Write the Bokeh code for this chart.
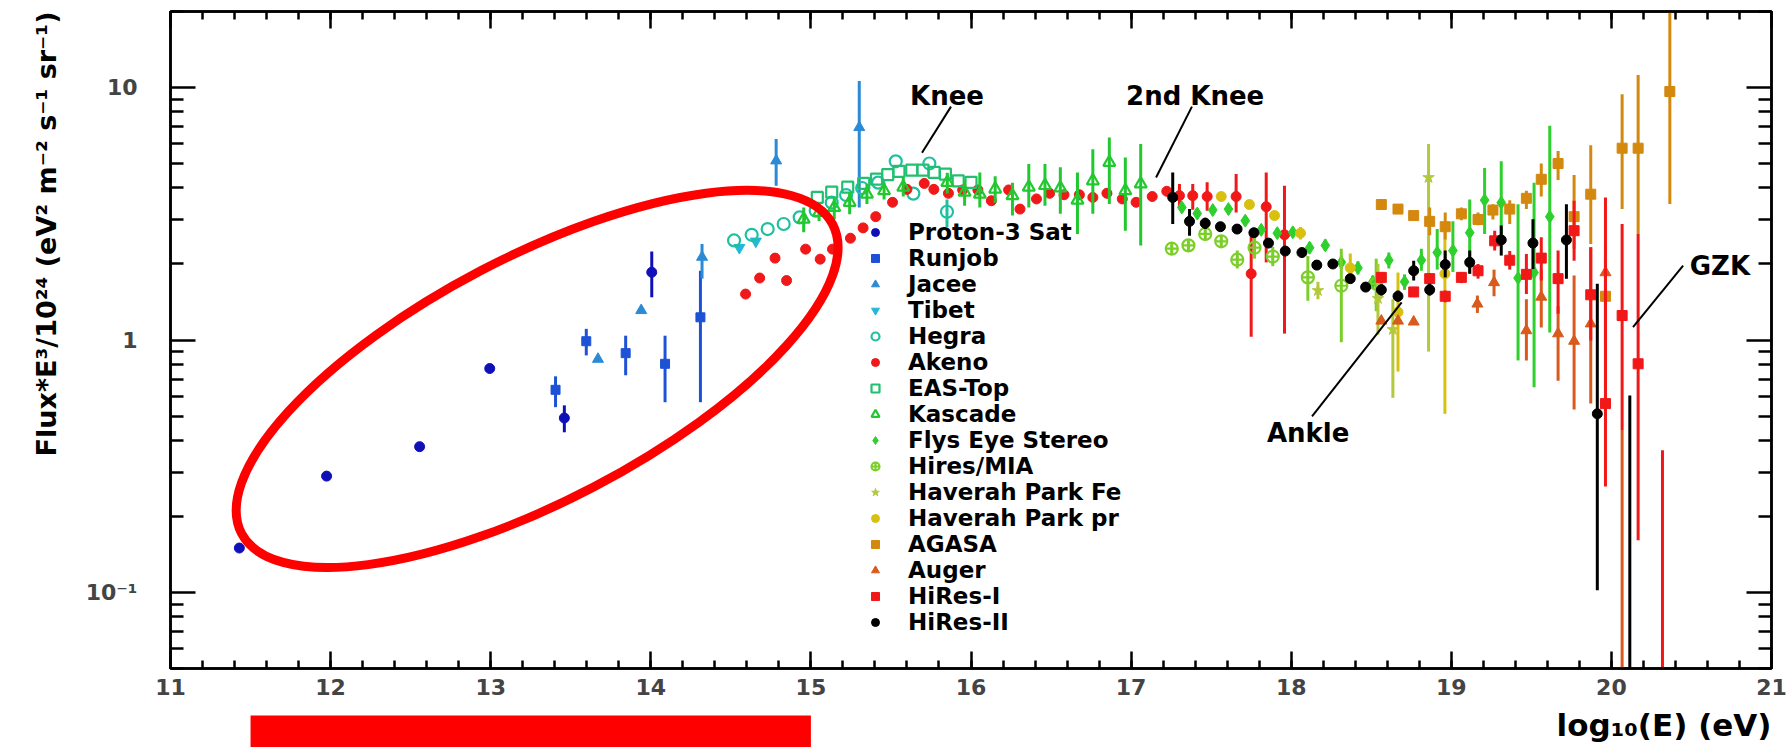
from bokeh.embed import file_html
from bokeh.layouts import column
from bokeh.models import (ColumnDataSource, CustomJSTickFormatter, FixedTicker, Label, Legend,
                          LegendItem, LinearAxis, LogAxis, Range1d, SingleIntervalTicker, Title)
from bokeh.plotting import figure
from bokeh.resources import INLINE

# ---------------------------------------------------------------------------
# Cosmic-ray all-particle spectrum, Flux * E^3 / 1e24  [eV^2 m^-2 s^-1 sr^-1]
# x values are log10(E/eV); lo/hi are the ends of the vertical error bars.
# ---------------------------------------------------------------------------
proton_x = [11.43, 11.975, 12.556, 12.994, 13.46, 14.006]
proton_y = [0.150, 0.289, 0.378, 0.771, 0.491, 1.855]
proton_lo = [0.150, 0.289, 0.378, 0.771, 0.431, 1.476]
proton_hi = [0.150, 0.289, 0.378, 0.771, 0.551, 2.24]

runjob_x = [13.405, 13.597, 13.843, 14.089, 14.31]
runjob_y = [0.635, 0.989, 0.887, 0.805, 1.23]
runjob_lo = [0.542, 0.869, 0.725, 0.567, 0.567]
runjob_hi = [0.718, 1.107, 1.04, 1.04, 1.88]

jacee_x = [13.67, 13.94, 14.32, 14.783, 15.302]
jacee_y = [0.84, 1.31, 2.13, 5.13, 6.95]
jacee_lo = [0.84, 1.31, 1.75, 4.08, 3.35]
jacee_hi = [0.84, 1.31, 2.4, 6.25, 10.6]

tibet_x = [14.553, 14.656]
tibet_y = [2.32, 2.46]
tibet_lo = [2.32, 2.46]
tibet_hi = [2.32, 2.46]

hegra_x = [14.52, 14.63, 14.73, 14.83, 14.93, 15.03, 15.13, 15.22, 15.32, 15.42,
           15.53, 15.64, 15.74, 15.85]
hegra_y = [2.48, 2.61, 2.75, 2.88, 3.06, 3.25, 3.5, 3.75, 4.0, 4.2, 5.1, 3.8, 5.0, 3.22]
hegra_lo = [2.48, 2.61, 2.75, 2.88, 3.06, 3.25, 3.5, 3.75, 4.0, 4.2, 5.1, 3.8, 5.0, 2.8]
hegra_hi = [2.48, 2.61, 2.75, 2.88, 3.06, 3.25, 3.5, 3.75, 4.0, 4.2, 5.1, 3.8, 5.0, 3.6]

akeno_x = [14.592, 14.68, 14.776, 14.848, 14.967, 15.058, 15.135, 15.247, 15.326,
           15.405, 15.51, 15.6, 15.708, 15.768, 15.859, 15.948, 16.043, 16.127,
           16.235, 16.306, 16.409, 16.491, 16.581, 16.677, 16.761, 16.849, 16.945,
           17.031, 17.132, 17.223, 17.302, 17.385, 17.475, 17.656, 17.75, 17.844,
           17.958]
akeno_y = [1.52, 1.76, 2.11, 1.72, 2.29, 2.09, 2.29, 2.53, 2.78, 3.08, 3.51, 3.95,
           4.17, 3.95, 3.81, 3.93, 3.93, 3.56, 3.93, 3.3, 3.62, 3.81, 3.76, 3.76,
           3.67, 3.81, 3.62, 3.51, 3.7, 3.88, 3.73, 3.73, 3.7, 3.7, 1.83, 3.37, 2.61]
akeno_lo = akeno_y[:30] + [3.35, 3.28, 3.25, 3.2, 1.03, 2.03, 1.06]
akeno_hi = akeno_y[:30] + [4.15, 4.15, 4.21, 4.54, 2.63, 4.61, 4.08]

eastop_x = [15.04, 15.13, 15.23, 15.33, 15.41, 15.48, 15.55, 15.63, 15.70, 15.77,
            15.84, 15.92, 16.0]
eastop_y = [3.67, 3.85, 4.03, 4.17, 4.34, 4.52, 4.65, 4.71, 4.71, 4.61, 4.54, 4.27, 4.21]
eastop_lo = eastop_y
eastop_hi = eastop_y

kascade_x = [14.955, 15.051, 15.146, 15.242, 15.35, 15.457, 15.577, 15.852, 15.96,
             16.055, 16.151, 16.259, 16.361, 16.462, 16.558, 16.665, 16.761, 16.864,
             16.964, 17.06]
kascade_y = [3.01, 3.2, 3.35, 3.51, 3.78, 3.9, 4.03, 4.21, 3.85, 3.78, 3.96, 3.73,
             4.03, 4.09, 4.0, 3.58, 4.27, 5.05, 3.9, 4.15]
kascade_lo = [2.67, 2.96, 3.01, 3.15, 3.46, 3.6, 3.7, 3.8, 3.4, 3.35, 3.5, 3.11,
              3.35, 3.4, 3.16, 2.63, 3.16, 3.46, 2.71, 2.37]
kascade_hi = [3.35, 3.45, 3.67, 3.85, 4.15, 4.2, 4.4, 4.6, 4.3, 4.61, 4.45, 4.2,
              4.98, 4.98, 4.83, 4.61, 5.7, 6.34, 5.28, 5.97]

flys_x = [17.317, 17.413, 17.51, 17.608, 17.713, 17.813, 17.913, 18.01, 18.115,
          18.213, 18.313, 18.417, 18.51, 18.61, 18.708, 18.813, 18.912, 19.01,
          19.115, 19.208, 19.312, 19.417, 19.517, 19.615]
flys_y = [3.35, 3.17, 3.27, 3.3, 2.97, 2.73, 2.65, 2.67, 2.32, 2.37, 2.03, 1.93,
          1.7, 2.07, 1.7, 2.07, 2.22, 2.26, 2.66, 3.58, 3.5, 1.76, 1.85, 3.08]
flys_lo = [3.2, 3.03, 3.12, 3.15, 2.84, 2.6, 2.53, 2.55, 2.2, 2.25, 1.92, 1.82,
           1.6, 1.92, 1.58, 1.88, 1.9, 1.86, 1.83, 2.63, 2.55, 0.83, 0.65, 1.07]
flys_hi = [3.5, 3.32, 3.42, 3.45, 3.1, 2.86, 2.77, 2.8, 2.44, 2.5, 2.15, 2.05,
           1.8, 2.22, 1.82, 2.3, 2.75, 2.95, 3.6, 4.8, 5.1, 3.45, 4.2, 7.05]

mia_x = [17.254, 17.358, 17.463, 17.563, 17.663, 17.771, 17.885, 18.104, 18.313, 18.531]
mia_y = [2.3, 2.37, 2.63, 2.46, 2.08, 2.32, 2.14, 1.77, 1.64, 1.67]
mia_lo = [2.17, 2.24, 2.48, 2.32, 1.92, 2.1, 1.96, 1.43, 0.98, 1.3]
mia_hi = [2.44, 2.5, 2.78, 2.6, 2.26, 2.55, 2.34, 2.15, 2.3, 2.1]

hpfe_x = [18.167, 18.542, 18.635, 18.858]
hpfe_y = [1.57, 1.46, 1.1, 4.4]
hpfe_lo = [1.45, 1.05, 0.59, 0.9]
hpfe_hi = [1.7, 2.0, 1.45, 5.97]

hppr_x = [17.563, 17.739, 17.896, 18.058, 18.369, 18.667, 18.96]
hppr_y = [3.7, 3.44, 3.11, 2.65, 1.93, 1.29, 1.83]
hppr_lo = [3.7, 3.44, 3.11, 2.5, 1.75, 0.75, 0.51]
hppr_hi = [3.7, 3.44, 3.11, 2.8, 2.2, 1.85, 2.7]

agasa_x = [18.563, 18.667, 18.765, 18.865, 18.962, 19.063, 19.167, 19.26, 19.365,
           19.469, 19.562, 19.667, 19.767, 19.871, 19.963, 20.067, 20.167, 20.365]
agasa_y = [3.44, 3.3, 3.11, 2.95, 2.81, 3.16, 3.0, 3.27, 3.3, 3.64, 4.33, 5.0,
           3.08, 3.78, 1.49, 5.75, 5.75, 9.64]
agasa_lo = [3.44, 3.3, 3.11, 2.6, 2.5, 2.98, 2.85, 3.0, 2.88, 3.3, 3.7, 4.3,
            2.3, 2.4, 0.95, 3.3, 2.63, 3.46]
agasa_hi = [3.44, 3.3, 3.11, 3.35, 3.2, 3.35, 3.2, 3.45, 3.58, 3.9, 5.0, 5.6,
            4.5, 5.9, 2.4, 9.4, 11.2, 19.8]

auger_x = [18.563, 18.667, 18.765, 19.163, 19.267, 19.469, 19.562, 19.667, 19.767,
           19.871, 19.963, 20.067]
auger_y = [1.19, 1.19, 1.18, 1.39, 1.69, 1.09, 1.48, 1.06, 0.99, 1.16, 1.85, 0.03]
auger_lo = [1.19, 1.19, 1.18, 1.28, 1.49, 0.83, 1.12, 0.69, 0.53, 0.56, 0.5, 0.01]
auger_hi = [1.19, 1.19, 1.18, 1.5, 1.9, 1.45, 1.9, 1.36, 1.8, 2.33, 2.05, 0.44]

hires1_x = [18.563, 18.765, 18.865, 18.962, 19.063, 19.167, 19.271, 19.365, 19.469,
            19.562, 19.667, 19.767, 19.871, 19.963, 20.067, 20.167, 20.319]
hires1_y = [1.77, 1.55, 1.75, 1.49, 1.77, 1.88, 2.47, 2.07, 1.82, 2.11, 1.75, 2.71,
            1.51, 0.56, 1.25, 0.805, 0.03]
hires1_lo = [1.68, 1.48, 1.66, 1.41, 1.68, 1.75, 2.26, 1.9, 1.52, 1.72, 1.27, 2.06,
             0.995, 0.263, 0.44, 0.161, 0.01]
hires1_hi = [1.86, 1.62, 1.84, 1.57, 1.86, 2.0, 2.71, 2.25, 2.19, 2.55, 2.26, 3.56,
             2.33, 3.67, 2.88, 2.63, 0.366]

hires2_x = [17.26, 17.365, 17.463, 17.558, 17.662, 17.767, 17.858, 17.963, 18.067,
            18.16, 18.26, 18.369, 18.465, 18.563, 18.667, 18.765, 18.865, 18.962,
            19.115, 19.312, 19.51, 19.719, 19.912, 20.115]
hires2_y = [3.67, 2.95, 2.9, 2.81, 2.75, 2.66, 2.42, 2.25, 2.22, 1.98, 2.0, 1.75,
            1.62, 1.58, 1.49, 1.88, 1.58, 1.99, 2.03, 2.49, 2.42, 2.49, 0.51, 0.03]
hires2_lo = [2.88, 2.59, 2.75, 2.7, 2.65, 2.57, 2.34, 2.18, 2.15, 1.92, 1.94, 1.68,
             1.57, 1.5, 1.42, 1.72, 1.5, 1.77, 1.83, 2.16, 1.91, 1.75, 0.102, 0.01]
hires2_hi = [4.61, 3.3, 3.05, 2.92, 2.85, 2.75, 2.5, 2.32, 2.29, 2.04, 2.06, 1.82,
             1.67, 1.66, 1.57, 2.06, 1.67, 2.26, 2.26, 2.84, 3.01, 3.45, 1.67, 0.603]

# axis tick labels
y_ticks = [0.1, 1, 10]
y_tick_labels = {0.1: "10⁻¹", 1: "1", 10: "10"}

# feature annotations: text position and pointer line (log10 E, flux)
features = [
    ("Knee", 15.85, 9.27, [15.875, 15.694], [8.4, 5.52]),
    ("2nd Knee", 17.40, 9.27, [17.38, 17.156], [8.4, 4.4]),
    ("Ankle", 18.106, 0.4266, [18.13, 18.69], [0.498, 1.41]),
    ("GZK", 20.678, 1.97, [20.448, 20.135], [1.97, 1.124]),
]

# energy band of the direct (balloon/satellite) measurements, log10(E)
direct_band = (11.5, 15.0)

FONT = "DejaVu Sans"
WIDTH = 1789

x_range = Range1d(11, 21)
p = figure(width=WIDTH, height=705,
           x_range=x_range, y_range=Range1d(0.05, 20),
           y_axis_type="log", output_backend="svg", toolbar_location=None,
           min_border_left=170, min_border_right=18, min_border_top=11,
           min_border_bottom=37)
p.background_fill_color = "white"
p.border_fill_color = "white"
p.outline_line_color = "black"
p.outline_line_width = 2.5
p.xgrid.visible = False
p.ygrid.visible = False

minor_y = [m * 10.0 ** e for e in (-2, -1, 0, 1) for m in range(2, 10)]
minor_y = [v for v in minor_y if 0.05 <= v <= 20]

blank = CustomJSTickFormatter(code="return ''")


def style_axis(ax, tick_in, minor_in, labels, standoff):
    ax.major_tick_in = tick_in
    ax.major_tick_out = 0
    ax.minor_tick_in = minor_in
    ax.minor_tick_out = 0
    ax.axis_line_width = 2.5
    ax.major_tick_line_width = 2.5
    ax.minor_tick_line_width = 2.5
    ax.major_label_text_font = FONT
    ax.major_label_text_font_style = "bold"
    if labels:
        ax.major_label_text_font_size = "22px"
        ax.major_label_standoff = standoff
    else:
        ax.formatter = blank
        ax.major_label_text_font_size = "1px"
        ax.major_label_standoff = 0


xaxis = p.xaxis[0]
xaxis.ticker = SingleIntervalTicker(interval=1, num_minor_ticks=5)
style_axis(xaxis, 17, 8, True, 10)

yaxis = p.yaxis[0]
yaxis.ticker = FixedTicker(ticks=y_ticks, minor_ticks=minor_y)
style_axis(yaxis, 25, 13, True, 33)
yaxis.major_label_overrides = y_tick_labels

top_axis = LinearAxis(ticker=SingleIntervalTicker(interval=1, num_minor_ticks=5))
style_axis(top_axis, 17, 8, False, 0)
p.add_layout(top_axis, "above")
right_axis = LogAxis(ticker=FixedTicker(ticks=y_ticks, minor_ticks=minor_y))
style_axis(right_axis, 25, 13, False, 0)
p.add_layout(right_axis, "right")

# vertical axis title, placed at the top end of the axis
p.add_layout(Title(text="Flux*E³/10²⁴ (eV² m⁻² s⁻¹ sr⁻¹)", align="right",
                   text_font=FONT, text_font_style="bold", text_font_size="27px",
                   text_color="black", standoff=42), "left")

series = [
    ("Proton-3 Sat", proton_x, proton_y, proton_lo, proton_hi, "circle", "#0f10b8", 10, True),
    ("Runjob", runjob_x, runjob_y, runjob_lo, runjob_hi, "square", "#1d52d6", 9, True),
    ("Jacee", jacee_x, jacee_y, jacee_lo, jacee_hi, "triangle", "#2a8ad6", 11, True),
    ("Tibet", tibet_x, tibet_y, tibet_lo, tibet_hi, "inverted_triangle", "#22b8d8", 11, True),
    ("Hegra", hegra_x, hegra_y, hegra_lo, hegra_hi, "circle", "#1fc0a0", 12, False),
    ("Akeno", akeno_x, akeno_y, akeno_lo, akeno_hi, "circle", "#f01818", 10, True),
    ("EAS-Top", eastop_x, eastop_y, eastop_lo, eastop_hi, "square", "#20c070", 11, False),
    ("Kascade", kascade_x, kascade_y, kascade_lo, kascade_hi, "triangle", "#22c830", 12, False),
    ("Flys Eye Stereo", flys_x, flys_y, flys_lo, flys_hi, "diamond", "#2ed02e", 13, True),
    ("Hires/MIA", mia_x, mia_y, mia_lo, mia_hi, "circle_cross", "#7ccf2a", 12, False),
    ("Haverah Park Fe", hpfe_x, hpfe_y, hpfe_lo, hpfe_hi, "star", "#b4c83c", 12, True),
    ("Haverah Park pr", hppr_x, hppr_y, hppr_lo, hppr_hi, "circle", "#d8c010", 10, True),
    ("AGASA", agasa_x, agasa_y, agasa_lo, agasa_hi, "square", "#d4880e", 10, True),
    ("Auger", auger_x, auger_y, auger_lo, auger_hi, "triangle", "#d85a1c", 11, True),
    ("HiRes-I", hires1_x, hires1_y, hires1_lo, hires1_hi, "square", "#f21818", 10, True),
    ("HiRes-II", hires2_x, hires2_y, hires2_lo, hires2_hi, "circle", "#000000", 10, True),
]

items = []
for name, xs, ys, lo, hi, marker, color, size, filled in series:
    src = ColumnDataSource(dict(x=xs, y=ys, lo=lo, hi=hi))
    p.segment(x0="x", y0="lo", x1="x", y1="hi", source=src,
              line_color=color, line_width=3)
    r = p.scatter(x="x", y="y", source=src, marker=marker, size=size,
                  line_color=color, line_width=2.2 if not filled else 1,
                  fill_color=color, fill_alpha=1.0 if filled else 0.0)
    items.append(LegendItem(label=name, renderers=[r]))

legend = Legend(items=items, location=(695, 33),
                glyph_width=20, glyph_height=24, label_height=24,
                label_standoff=23, spacing=0, padding=0, margin=0,
                border_line_alpha=0, background_fill_alpha=0,
                label_text_font=FONT, label_text_font_style="bold",
                label_text_font_size="23px", label_text_color="black")
p.add_layout(legend, "center")

# feature markers with pointer lines
for text, tx, ty, lx, ly in features:
    p.line(lx, ly, line_color="black", line_width=2)
    p.add_layout(Label(x=tx, y=ty, text=text, text_align="center",
                       text_baseline="middle", text_font=FONT,
                       text_font_style="bold", text_font_size="26px",
                       text_color="black"))

# highlighted low-energy direct-measurement region
p.ellipse(x=[13.29], y=[0.701], width=667, height=244, angle=0.4817,
          width_units="screen", height_units="screen",
          fill_alpha=0, line_color="#ff0000", line_width=9)

# strip under the axis: direct-measurement band marker and x-axis title
strip = figure(width=WIDTH, height=42, x_range=x_range, y_range=Range1d(0, 42),
               output_backend="svg", toolbar_location=None,
               x_axis_location=None, y_axis_location=None,
               min_border_left=170, min_border_right=18, min_border_top=0,
               min_border_bottom=0)
strip.grid.visible = False
strip.outline_line_color = None
strip.background_fill_color = "white"
strip.border_fill_color = "white"
strip.quad(left=[direct_band[0]], right=[direct_band[1]], bottom=[0], top=[32],
           fill_color="#ff0000", line_color=None)
strip.add_layout(Label(x=21.0, y=23, text="log₁₀(E) (eV)",
                       text_align="right", text_baseline="middle",
                       text_font=FONT, text_font_style="bold",
                       text_font_size="31px", text_color="black"))

layout = column(p, strip, spacing=0)
open("out.html", "w").write(file_html(layout, INLINE))
